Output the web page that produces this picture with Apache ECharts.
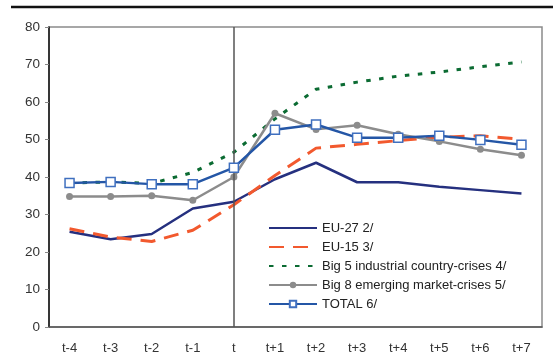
<!DOCTYPE html>
<html>
<head>
<meta charset="utf-8">
<script src="https://cdn.jsdelivr.net/npm/echarts@6/dist/echarts.min.js"></script>
<style>
  html, body { margin: 0; padding: 0; background: #fff; }
  #chart { width: 553px; height: 356px; }
</style>
</head>
<body>
<div id="chart"></div>
<script>
// Periods around the crisis year t
const periods = ['t-4', 't-3', 't-2', 't-1', 't', 't+1', 't+2', 't+3', 't+4', 't+5', 't+6', 't+7'];

const eu27 = [25.4, 23.4, 24.8, 31.6, 33.4, 39.4, 43.8, 38.6, 38.6, 37.4, 36.5, 35.6];
const eu15 = [26.2, 24.0, 22.8, 25.8, 32.6, 40.4, 47.7, 48.7, 49.7, 50.6, 51.0, 50.1];
const big5 = [38.4, 38.7, 38.3, 41.2, 46.6, 55.5, 63.4, 65.3, 66.9, 68.0, 69.4, 70.7];
const big8 = [34.8, 34.8, 35.0, 33.8, 40.0, 57.0, 52.7, 53.8, 51.4, 49.5, 47.4, 45.8];
const total = [38.4, 38.7, 38.1, 38.1, 42.5, 52.6, 54.0, 50.5, 50.5, 51.0, 49.9, 48.6];

const yTicks = { min: 0, max: 80, step: 10 };

const seriesNames = [
  'EU-27 2/',
  'EU-15 3/',
  'Big 5 industrial country-crises 4/',
  'Big 8 emerging market-crises 5/',
  'TOTAL 6/'
];

const font = 'Liberation Sans, Arial, sans-serif';

// Lines without markers get a legend entry with a hidden symbol
const legendItems = seriesNames.map((name, i) =>
  i < 3 ? { name, itemStyle: { opacity: 0 } } : { name }
);

const chart = echarts.init(document.getElementById('chart'), null, { renderer: 'canvas' });

chart.setOption({
  animation: false,
  backgroundColor: '#fff',
  grid: {
    left: 49, right: 11, top: 27, bottom: 29,
    show: true, borderColor: '#8a8a8a', borderWidth: 1.5, backgroundColor: 'transparent'
  },
  graphic: [{
    type: 'line',
    shape: { x1: 11, y1: 7, x2: 553, y2: 7 },
    style: { stroke: '#111', lineWidth: 2.5 }
  }],
  legend: {
    orient: 'vertical',
    left: 268,
    top: 221,
    padding: 0,
    itemWidth: 48,
    itemHeight: 8,
    itemGap: 5,
    textStyle: { fontFamily: font, fontSize: 13, color: '#222', lineHeight: 14 },
    data: legendItems
  },
  xAxis: {
    type: 'category',
    data: periods,
    boundaryGap: true,
    axisLine: { lineStyle: { color: '#555', width: 1.5 } },
    axisTick: { length: 5, lineStyle: { color: '#777', width: 1 } },
    axisLabel: { fontFamily: font, fontSize: 13, color: '#333', margin: 15 },
    splitLine: { show: false }
  },
  yAxis: {
    type: 'value',
    min: yTicks.min, max: yTicks.max, interval: yTicks.step,
    axisLine: { show: true, lineStyle: { color: '#111', width: 1.5 } },
    axisTick: { show: true, length: 4, lineStyle: { color: '#888' } },
    axisLabel: { fontFamily: font, fontSize: 13.5, color: '#333', margin: 9 },
    splitLine: { show: false }
  },
  series: [
    {
      name: seriesNames[0], type: 'line', data: eu27,
      symbol: 'none', z: 2,
      lineStyle: { color: '#25307f', width: 2.5 },
      itemStyle: { color: '#25307f' },
      markLine: {
        silent: true, symbol: 'none', label: { show: false },
        lineStyle: { color: '#555', width: 1.5, type: 'solid' },
        data: [{ xAxis: 't' }]
      }
    },
    {
      name: seriesNames[1], type: 'line', data: eu15,
      symbol: 'none', z: 3,
      lineStyle: { color: '#f2592e', width: 3, type: [15, 9] },
      itemStyle: { color: '#f2592e' }
    },
    {
      name: seriesNames[2], type: 'line', data: big5,
      symbol: 'none', z: 3,
      lineStyle: { color: '#0b6b32', width: 3, type: [4.5, 8.5] },
      itemStyle: { color: '#0b6b32' }
    },
    {
      name: seriesNames[3], type: 'line', data: big8,
      symbol: 'circle', symbolSize: 7, z: 4,
      lineStyle: { color: '#8c8c8c', width: 2.5 },
      itemStyle: { color: '#8c8c8c' }
    },
    {
      name: seriesNames[4], type: 'line', data: total,
      symbol: 'rect', symbolSize: 9, z: 5,
      lineStyle: { color: '#2456a6', width: 2.5 },
      itemStyle: { color: '#fff', borderColor: '#3f6fbf', borderWidth: 1.5 }
    }
  ]
});
</script>
</body>
</html>
